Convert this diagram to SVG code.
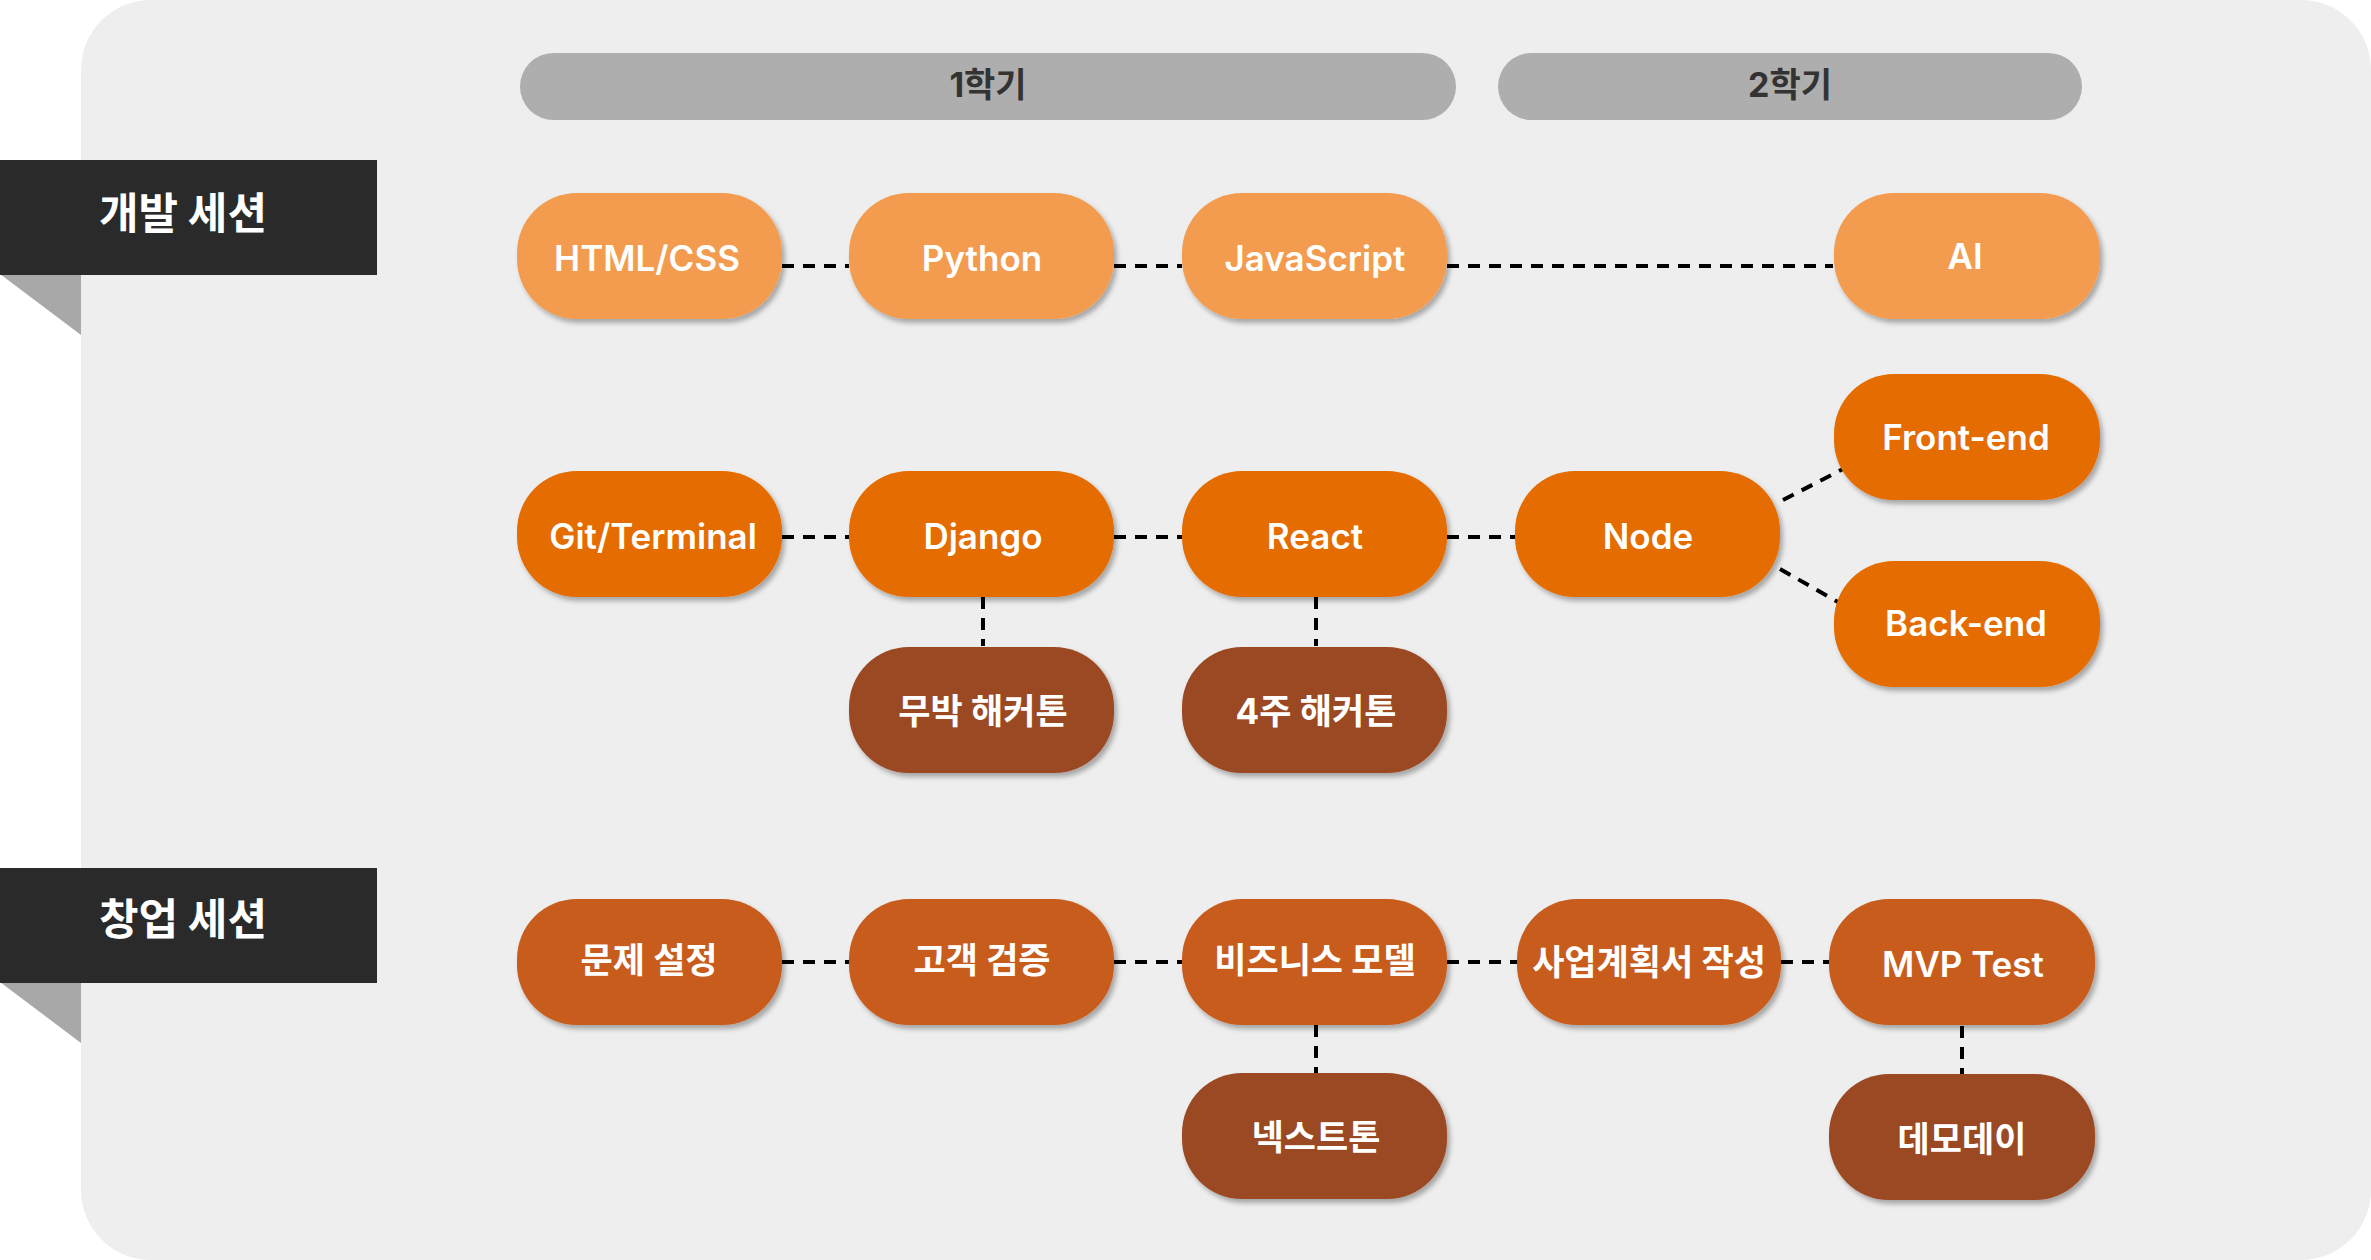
<svg xmlns="http://www.w3.org/2000/svg" width="2371" height="1260" viewBox="0 0 2371 1260">
  <style>
    .lbl { font-family: Inter, "Noto Sans", "Noto Sans CJK KR", sans-serif; font-weight: 600; fill: #FFFFFF; text-anchor: middle; font-size: 35px; }
    .ko { font-family: Inter, "Noto Sans CJK KR", sans-serif; font-weight: 700; font-size: 35px; }
    .sem { font-family: Inter, "Noto Sans CJK KR", sans-serif; font-weight: 700; fill: #333333; text-anchor: middle; font-size: 34px; }
    .sec { font-family: "Noto Sans CJK KR", sans-serif; font-weight: 700; fill: #FFFFFF; text-anchor: middle; font-size: 43px; }
    .c1 { fill: #F39C4F; }
    .c2 { fill: #E46C03; }
    .c3 { fill: #C85C1B; }
    .c4 { fill: #9B4823; }
    .conn { stroke: #000000; stroke-width: 4; stroke-dasharray: 12 9; fill: none; }
  </style>
  <defs>
    <filter id="sh" x="-10%" y="-10%" width="125%" height="130%">
      <feDropShadow dx="3" dy="4" stdDeviation="2.5" flood-color="#000000" flood-opacity="0.3"/>
    </filter>
  </defs>

  <rect x="0" y="0" width="2371" height="1260" fill="#FFFFFF"/>
  <rect id="panel" x="81" y="0" width="2290" height="1260" rx="70" ry="70" fill="#EEEEEE"/>

  <g id="semester1">
    <rect x="520" y="53" width="936" height="67" rx="33.5" fill="#AEAEAE"/>
    <text class="sem" x="988" y="97">1학기</text>
  </g>
  <g id="semester2">
    <rect x="1498" y="53" width="584" height="67" rx="33.5" fill="#AEAEAE"/>
    <text class="sem" x="1790" y="97">2학기</text>
  </g>

  <g id="section-dev">
    <polygon points="0,274 81,274 81,335" fill="#A8A8A8"/>
    <rect x="0" y="160" width="377" height="115" fill="#2A2A2A"/>
    <text class="sec" x="183" y="229">개발 세션</text>
  </g>
  <g id="section-startup">
    <polygon points="0,982 81,982 81,1043" fill="#A8A8A8"/>
    <rect x="0" y="868" width="377" height="115" fill="#2A2A2A"/>
    <text class="sec" x="183" y="935">창업 세션</text>
  </g>

  <g id="connectors">
    <line class="conn" x1="782" y1="266" x2="849" y2="266"/>
    <line class="conn" x1="1114" y1="266" x2="1182" y2="266"/>
    <line class="conn" x1="1447" y1="266" x2="1833" y2="266"/>
    <line class="conn" x1="782" y1="537" x2="849" y2="537"/>
    <line class="conn" x1="1114" y1="537" x2="1182" y2="537"/>
    <line class="conn" x1="1447" y1="537" x2="1515" y2="537"/>
    <line class="conn" x1="1783" y1="500" x2="1843" y2="469"/>
    <line class="conn" x1="1780" y1="569" x2="1838" y2="602"/>
    <line class="conn" x1="983" y1="597" x2="983" y2="646"/>
    <line class="conn" x1="1316" y1="597" x2="1316" y2="646"/>
    <line class="conn" x1="782" y1="962" x2="849" y2="962"/>
    <line class="conn" x1="1114" y1="962" x2="1182" y2="962"/>
    <line class="conn" x1="1447" y1="962" x2="1517" y2="962"/>
    <line class="conn" x1="1781" y1="962" x2="1829" y2="962"/>
    <line class="conn" x1="1316" y1="1025" x2="1316" y2="1073"/>
    <line class="conn" x1="1962" y1="1026" x2="1962" y2="1074"/>
  </g>

  <g id="html-css"><rect class="c1" filter="url(#sh)" x="517" y="193" width="265" height="126" rx="60"/><text class="lbl" x="647" y="271">HTML/CSS</text></g>
  <g id="python"><rect class="c1" filter="url(#sh)" x="849" y="193" width="265" height="126" rx="60"/><text class="lbl" x="982" y="271">Python</text></g>
  <g id="javascript"><rect class="c1" filter="url(#sh)" x="1182" y="193" width="265" height="126" rx="60"/><text class="lbl" x="1315" y="271">JavaScript</text></g>
  <g id="ai"><rect class="c1" filter="url(#sh)" x="1834" y="193" width="266" height="126" rx="60"/><text class="lbl" x="1965" y="269">AI</text></g>

  <g id="git-terminal"><rect class="c2" filter="url(#sh)" x="517" y="471" width="265" height="126" rx="60"/><text class="lbl" x="653" y="549">Git/Terminal</text></g>
  <g id="django"><rect class="c2" filter="url(#sh)" x="849" y="471" width="265" height="126" rx="60"/><text class="lbl" x="983" y="549">Django</text></g>
  <g id="react"><rect class="c2" filter="url(#sh)" x="1182" y="471" width="265" height="126" rx="60"/><text class="lbl" x="1315" y="549">React</text></g>
  <g id="node"><rect class="c2" filter="url(#sh)" x="1515" y="471" width="265" height="126" rx="60"/><text class="lbl" x="1648" y="549">Node</text></g>
  <g id="front-end"><rect class="c2" filter="url(#sh)" x="1834" y="374" width="266" height="126" rx="60"/><text class="lbl" x="1966" y="450">Front-end</text></g>
  <g id="back-end"><rect class="c2" filter="url(#sh)" x="1834" y="561" width="266" height="126" rx="60"/><text class="lbl" x="1966" y="636">Back-end</text></g>

  <g id="mubak"><rect class="c4" filter="url(#sh)" x="849" y="647" width="265" height="126" rx="60"/><text class="lbl ko" x="983" y="724">무박 해커톤</text></g>
  <g id="4weeks"><rect class="c4" filter="url(#sh)" x="1182" y="647" width="265" height="126" rx="60"/><text class="lbl ko" x="1316" y="724">4주 해커톤</text></g>

  <g id="problem"><rect class="c3" filter="url(#sh)" x="517" y="899" width="265" height="126" rx="60"/><text class="lbl ko" x="649" y="973">문제 설정</text></g>
  <g id="customer"><rect class="c3" filter="url(#sh)" x="849" y="899" width="265" height="126" rx="60"/><text class="lbl ko" x="982" y="973">고객 검증</text></g>
  <g id="business-model"><rect class="c3" filter="url(#sh)" x="1182" y="899" width="265" height="126" rx="60"/><text class="lbl ko" x="1315" y="973">비즈니스 모델</text></g>
  <g id="business-plan"><rect class="c3" filter="url(#sh)" x="1517" y="899" width="264" height="126" rx="60"/><text class="lbl ko" x="1649" y="975">사업계획서 작성</text></g>
  <g id="mvp-test"><rect class="c3" filter="url(#sh)" x="1829" y="899" width="266" height="126" rx="60"/><text class="lbl" x="1963" y="977">MVP Test</text></g>

  <g id="nextton"><rect class="c4" filter="url(#sh)" x="1182" y="1073" width="265" height="126" rx="60"/><text class="lbl ko" x="1316" y="1150">넥스트톤</text></g>
  <g id="demoday"><rect class="c4" filter="url(#sh)" x="1829" y="1074" width="266" height="126" rx="60"/><text class="lbl ko" x="1962" y="1152">데모데이</text></g>
</svg>
